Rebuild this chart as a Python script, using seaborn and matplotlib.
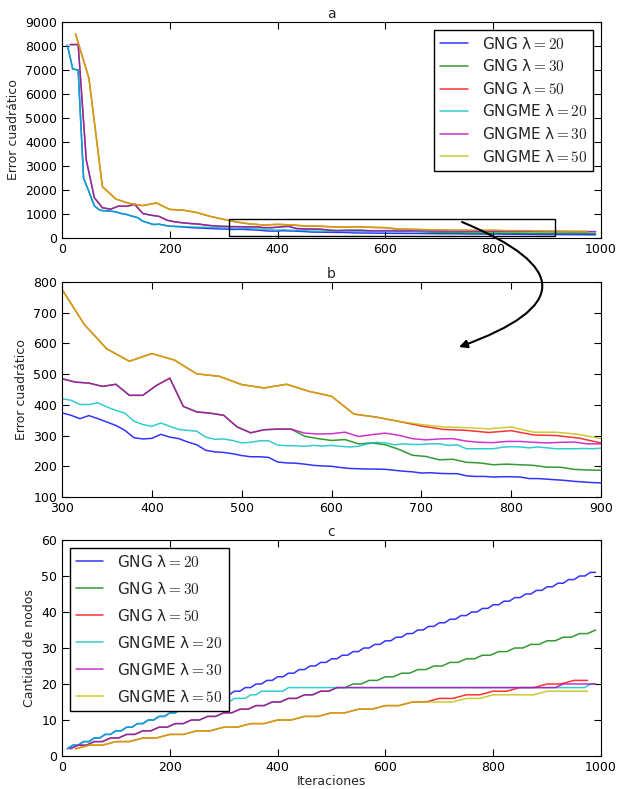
import numpy as np
import pandas as pd
import matplotlib
matplotlib.use("Agg")
import matplotlib.pyplot as plt
import seaborn as sns
from matplotlib.patches import Rectangle, FancyArrowPatch

# ---------------- data ----------------
iters_20 = list(range(10, 1000, 10))   # lambda = 20 sampling
iters_30 = list(range(15, 1000, 15))   # lambda = 30 sampling
iters_50 = list(range(25, 1000, 25))   # lambda = 50 sampling

labels = ['GNG λ$=20$', 'GNG λ$=30$', 'GNG λ$=50$',
          'GNGME λ$=20$', 'GNGME λ$=30$', 'GNGME λ$=50$']

# quadratic error
err_gng_20 = [8030, 7040, 7000, 2490, 1930, 1340, 1160, 1130, 1120, 1090,
              1020, 980, 910, 850, 700, 630, 560, 575, 530, 490,
              480, 465, 450, 430, 420, 410, 400, 390, 382, 374,
              366, 355, 365, 355, 344, 333, 317, 293, 289, 291,
              304, 295, 290, 279, 270, 252, 247, 245, 241, 235,
              231, 231, 229, 214, 211, 210, 207, 203, 201, 200,
              196, 193, 192, 191, 191, 190, 187, 184, 182, 178,
              179, 177, 176, 176, 169, 167, 167, 165, 166, 166,
              165, 160, 160, 158, 156, 154, 151, 149, 147, 146,
              145, 143, 141, 140, 138, 137, 136, 135, 134]
err_gngme_20 = [8030, 7040, 7000, 2490, 1930, 1340, 1160, 1130, 1120, 1090,
                1020, 980, 910, 850, 700, 630, 560, 575, 530, 490,
                490, 480, 470, 460, 455, 450, 445, 440, 430, 420,
                415, 401, 401, 407, 393, 382, 373, 347, 336, 330,
                341, 330, 320, 317, 314, 295, 288, 289, 284, 276,
                278, 283, 283, 269, 267, 267, 265, 268, 266, 268,
                265, 263, 265, 273, 278, 276, 270, 273, 271, 271,
                273, 273, 268, 270, 257, 257, 257, 257, 262, 264,
                263, 260, 263, 260, 257, 257, 257, 258, 257, 259,
                258, 258, 257, 257, 256, 256, 255, 255, 254]
err_gngme_30 = [8060, 8060, 3260, 1680, 1260, 1200, 1330, 1320, 1400, 1020,
                950, 900, 740, 670, 630, 600, 575, 530, 500, 485,
                474, 471, 460, 467, 431, 431, 463, 487, 395, 377,
                373, 366, 328, 309, 319, 321, 321, 308, 305, 306,
                311, 297, 303, 308, 301, 290, 286, 289, 290, 282,
                278, 277, 281, 281, 278, 276, 278, 279, 273, 273,
                272, 271, 270, 270, 269, 268]
err_gng_30 = [8060, 8060, 3260, 1680, 1260, 1200, 1330, 1320, 1400, 1020,
              950, 900, 740, 670, 630, 600, 575, 530, 500, 485,
              474, 471, 460, 467, 431, 431, 463, 487, 395, 377,
              373, 366, 328, 309, 319, 321, 321, 298, 290, 284,
              287, 273, 276, 270, 255, 236, 232, 221, 223, 213,
              211, 205, 207, 205, 203, 197, 197, 190, 188, 187,
              186, 184, 182, 181, 180, 178]
err_gngme_50 = [8510, 6650, 2140, 1620, 1440, 1350, 1460, 1190, 1160, 1060,
                900, 776, 661, 582, 542, 567, 546, 501, 493, 466,
                455, 467, 444, 428, 370, 360, 346, 336, 328, 326,
                322, 328, 311, 311, 304, 290, 285, 280, 278]
err_gng_50 = [8510, 6650, 2140, 1620, 1440, 1350, 1460, 1190, 1160, 1060,
              900, 776, 661, 582, 542, 567, 546, 501, 493, 466,
              455, 467, 444, 428, 370, 360, 346, 331, 320, 317,
              310, 316, 302, 300, 292, 276, 270, 265, 262]

# number of nodes
nodes_gng_20 = [2, 3, 3, 4, 4, 5, 5, 6, 6, 7, 7, 8, 8, 9, 9, 10, 10, 11, 11,
                12, 12, 13, 13, 14, 14, 15, 15, 16, 16, 17, 17, 18, 18, 19, 19,
                20, 20, 21, 21, 22, 22, 23, 23, 24, 24, 25, 25, 26, 26, 27, 27,
                28, 28, 29, 29, 30, 30, 31, 31, 32, 32, 33, 33, 34, 34, 35, 35,
                36, 36, 37, 37, 38, 38, 39, 39, 40, 40, 41, 41, 42, 42, 43, 43,
                44, 44, 45, 45, 46, 46, 47, 47, 48, 48, 49, 49, 50, 50, 51, 51]
nodes_gngme_20 = [2, 3, 3, 4, 4, 5, 5, 6, 6, 7, 7, 8, 8, 9, 9, 10, 10, 11, 11,
                  12, 12, 13, 13, 13, 13, 14, 14, 14, 15, 15, 15, 16, 16, 16,
                  17, 17, 18, 18, 18, 18, 18,
                  19, 19, 19, 19, 19, 19, 19, 19, 19, 19, 19, 19, 19, 19,
                  19, 19, 19, 19, 19, 19, 19, 19, 19, 19, 19, 19, 19, 19,
                  19, 19, 19, 19, 19, 19, 19, 19, 19, 19, 19, 19, 19, 19,
                  19, 19, 19, 19, 19, 19, 19, 19, 19, 19, 19, 19, 19, 19,
                  20, 20]
nodes_gng_30 = [2, 3, 3, 4, 4, 5, 5, 6, 6, 7, 7, 8, 8, 9, 9, 10, 10, 11, 11,
                12, 12, 13, 13, 14, 14, 15, 15, 16, 16, 17, 17, 18, 18, 19, 19,
                20, 20, 21, 21, 22, 22, 23, 23, 24, 24, 25, 25, 26, 26, 27, 27,
                28, 28, 29, 29, 30, 30, 31, 31, 32, 32, 33, 33, 34, 34, 35]
nodes_gngme_30 = [2, 3, 3, 4, 4, 5, 5, 6, 6, 7, 7, 8, 8, 9, 9, 10, 10, 11, 11,
                  12, 12, 13, 13, 14, 14, 15, 15, 16, 16, 17, 17, 18, 18, 19,
                  19, 19, 19, 19, 19, 19, 19, 19, 19, 19, 19, 19, 19, 19, 19,
                  19, 19, 19, 19, 19, 19, 19, 19, 19, 19, 19, 19,
                  20, 20, 20, 20, 20]
nodes_gng_50 = [2, 3, 3, 4, 4, 5, 5, 6, 6, 7, 7, 8, 8, 9, 9, 10, 10, 11, 11,
                12, 12, 13, 13, 14, 14, 15, 15, 16, 16, 17, 17, 18, 18, 19, 19,
                20, 20, 21, 21]
nodes_gngme_50 = [2, 3, 3, 4, 4, 5, 5, 6, 6, 7, 7, 8, 8, 9, 9, 10, 10, 11, 11,
                  12, 12, 13, 13, 14, 14, 15, 15,
                  15, 15, 16, 16, 17, 17, 17, 17, 18, 18, 18, 18]

colors = [(0, 0, 1), (0, 0.5, 0), (1, 0, 0),
          (0, 0.75, 0.75), (0.75, 0, 0.75), (0.75, 0.75, 0)]

err_series = [(iters_20, err_gng_20), (iters_30, err_gng_30), (iters_50, err_gng_50),
              (iters_20, err_gngme_20), (iters_30, err_gngme_30), (iters_50, err_gngme_50)]
node_series = [(iters_20, nodes_gng_20), (iters_30, nodes_gng_30), (iters_50, nodes_gng_50),
               (iters_20, nodes_gngme_20), (iters_30, nodes_gngme_30), (iters_50, nodes_gngme_50)]

# ---------------- style ----------------
sns.set_style("ticks", rc={
    "xtick.direction": "in", "ytick.direction": "in",
    "xtick.top": True, "ytick.right": True,
    "axes.edgecolor": "black", "axes.linewidth": 1.0,
    "xtick.color": "black", "ytick.color": "black",
})
plt.rcParams["font.family"] = ["DejaVu Sans"]
plt.rcParams["mathtext.fontset"] = "cm"
plt.rcParams["xtick.major.size"] = 5
plt.rcParams["ytick.major.size"] = 5
plt.rcParams["xtick.labelsize"] = 9
plt.rcParams["ytick.labelsize"] = 9

W, H = 619, 789
fig = plt.figure(figsize=(W / 100, H / 100), dpi=100)

def pos(l, t, r, b):
    return [l / W, 1 - b / H, (r - l) / W, (b - t) / H]

ax_a = fig.add_axes(pos(62, 22, 601, 238))
ax_b = fig.add_axes(pos(62, 282, 601, 497))
ax_c = fig.add_axes(pos(62, 540, 601, 756))

def draw(ax, series, with_labels):
    for (xs, ys), col, lab in zip(series, colors, labels):
        df = pd.DataFrame({"x": xs, "y": ys})
        sns.lineplot(data=df, x="x", y="y", ax=ax, color=col, alpha=0.8, lw=1.1,
                     estimator=None, sort=False,
                     label=lab if with_labels else None, legend=False)
    ax.set_xlabel("")
    ax.set_ylabel("")

# panel a
draw(ax_a, err_series, True)
ax_a.set_xlim(0, 1000)
ax_a.set_ylim(0, 9000)
ax_a.set_xticks(range(0, 1001, 200))
ax_a.set_yticks(range(0, 9001, 1000))
ax_a.set_title("a", fontsize=10, pad=3)
ax_a.set_ylabel("Error cuadrático", fontsize=9)
ax_a.add_patch(Rectangle((310, 70), 605, 740, fill=False, edgecolor="black", lw=1.0, zorder=5))
leg_a = ax_a.legend(loc="upper right", fontsize=11, frameon=True, fancybox=False,
                    edgecolor="black", framealpha=1, handlelength=1.8,
                    handletextpad=0.9, labelspacing=0.43, borderaxespad=0.5)
leg_a.get_frame().set_linewidth(1.0)

# panel b
draw(ax_b, err_series, False)
ax_b.set_xlim(300, 900)
ax_b.set_ylim(100, 800)
ax_b.set_xticks(range(300, 901, 100))
ax_b.set_yticks(range(100, 801, 100))
ax_b.set_title("b", fontsize=10, pad=3)
ax_b.set_ylabel("Error cuadrático", fontsize=9)

# panel c
draw(ax_c, node_series, True)
ax_c.set_xlim(0, 1000)
ax_c.set_ylim(0, 60)
ax_c.set_xticks(range(0, 1001, 200))
ax_c.set_yticks(range(0, 61, 10))
ax_c.set_title("c", fontsize=10, pad=3)
ax_c.set_ylabel("Cantidad de nodos", fontsize=9)
ax_c.set_xlabel("Iteraciones", fontsize=9, labelpad=1)
leg_c = ax_c.legend(loc="upper left", fontsize=11, frameon=True, fancybox=False,
                    edgecolor="black", framealpha=1, handlelength=1.8,
                    handletextpad=0.9, labelspacing=0.72, borderaxespad=0.5)
leg_c.get_frame().set_linewidth(1.0)

# curved arrow from the zoom box to panel b
arrow = FancyArrowPatch((462 / W, 1 - 222 / H), (459 / W, 1 - 347 / H),
                        transform=fig.transFigure, connectionstyle="arc3,rad=-1.3",
                        arrowstyle="-|>", mutation_scale=12, lw=1.5, color="black",
                        shrinkA=0, shrinkB=0, zorder=10)
fig.add_artist(arrow)

fig.savefig("out.png", dpi=100)
